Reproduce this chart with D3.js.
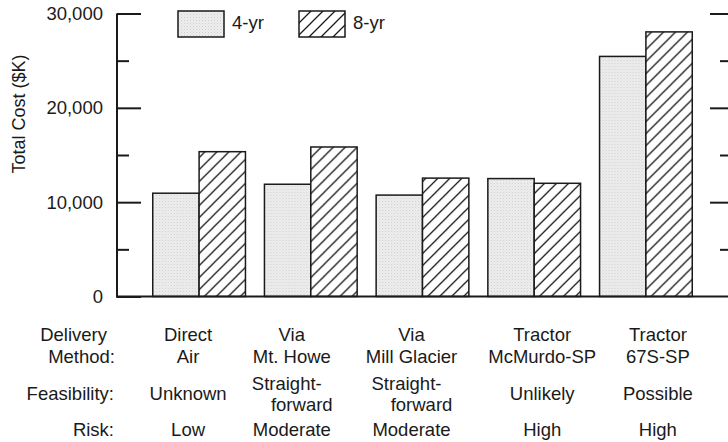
<!DOCTYPE html>
<html>
<head>
<meta charset="utf-8">
<script src="https://cdn.jsdelivr.net/npm/d3@7"></script>
<style>
  body { margin: 0; background: #fff; }
  text { font-family: "Liberation Sans", Arial, Helvetica, sans-serif; fill: #1a1a1a; }
</style>
</head>
<body>
<div class="vis-holder"></div>
<script>
// categories (delivery method, two lines each)
var methods = ["Direct Air", "Via Mt. Howe", "Via Mill Glacier", "Tractor McMurdo-SP", "Tractor 67S-SP"];
var methodLines = [["Direct", "Air"], ["Via", "Mt. Howe"], ["Via", "Mill Glacier"], ["Tractor", "McMurdo-SP"], ["Tractor", "67S-SP"]];
var feasibility = [["Unknown"], ["Straight-", "forward"], ["Straight-", "forward"], ["Unlikely"], ["Possible"]];
var risk = ["Low", "Moderate", "Moderate", "High", "High"];

// series values, total cost in $K
var seriesKeys = ["4-yr", "8-yr"];
var cost4yr = [10950, 11900, 10750, 12500, 25450];
var cost8yr = [15350, 15850, 12550, 12000, 28050];

// y ticks
var majorTicks = [0, 10000, 20000, 30000];
var minorTicks = [5000, 15000, 25000];

var width = 728;
var height = 442;
var margin = { top: 13.5, bottom: 145.5, left: 117, right: 0 };
var baseY = height - margin.bottom;

var svg = d3.select(".vis-holder")
            .append("svg")
            .attr("width", width)
            .attr("height", height);

// fill patterns: light stipple for 4-yr, diagonal hatch for 8-yr
var defs = svg.append("defs");
var stip = defs.append("pattern")
               .attr("id", "stipple")
               .attr("patternUnits", "userSpaceOnUse")
               .attr("width", 3).attr("height", 3);
stip.append("rect").attr("width", 3).attr("height", 3).attr("fill", "#eeeeee");
stip.append("rect").attr("x", 0).attr("y", 0).attr("width", 1).attr("height", 1).attr("fill", "#cdcdcd");
stip.append("rect").attr("x", 1.5).attr("y", 1.5).attr("width", 1).attr("height", 1).attr("fill", "#dcdcdc");

var hatch = defs.append("pattern")
                .attr("id", "hatch")
                .attr("patternUnits", "userSpaceOnUse")
                .attr("width", 12).attr("height", 12);
hatch.append("rect").attr("width", 12).attr("height", 12).attr("fill", "#fff");
hatch.append("path")
     .attr("d", "M0,12 L12,0 M-3,3 L3,-3 M9,15 L15,9")
     .attr("stroke", "#1a1a1a")
     .attr("stroke-width", 1.3);

var fills = { "4-yr": "url(#stipple)", "8-yr": "url(#hatch)" };

// rows for the bars
var rows = methods.map(function(m, i) {
  return { method: m, values: [{ key: "4-yr", v: cost4yr[i] }, { key: "8-yr", v: cost8yr[i] }] };
});

var xScale = d3.scaleBand()
               .domain(methods)
               .range([margin.left, width - margin.right])
               .paddingInner(0.17)
               .paddingOuter(0.32);

var xInner = d3.scaleBand()
               .domain(seriesKeys)
               .range([0, xScale.bandwidth()]);

var yScale = d3.scaleLinear()
               .domain([0, 30000])
               .range([baseY, margin.top]);

// bars
var groups = svg.append("g")
                .selectAll("g")
                .data(rows)
                .enter()
                .append("g")
                .attr("transform", function(d) { return "translate(" + xScale(d.method) + ",0)"; });

groups.selectAll("rect")
      .data(function(d) { return d.values; })
      .enter()
      .append("rect")
      .attr("x", function(d) { return xInner(d.key); })
      .attr("y", function(d) { return yScale(d.v); })
      .attr("width", xInner.bandwidth())
      .attr("height", function(d) { return baseY - yScale(d.v); })
      .attr("fill", function(d) { return fills[d.key]; })
      .attr("stroke", "#1a1a1a")
      .attr("stroke-width", 1.5);

// left axis: ticks pointing inward
var leftMajor = svg.append("g")
                   .attr("transform", "translate(" + margin.left + ",0)")
                   .call(d3.axisRight(yScale).tickValues(majorTicks).tickSize(24).tickFormat(""));
var leftMinor = svg.append("g")
                   .attr("transform", "translate(" + margin.left + ",0)")
                   .call(d3.axisRight(yScale).tickValues(minorTicks).tickSize(12).tickFormat(""));

// right axis, line sits just outside the frame
var rightX = 729;
var rightMajor = svg.append("g")
                    .attr("transform", "translate(" + rightX + ",0)")
                    .call(d3.axisLeft(yScale).tickValues(majorTicks.filter(function(t) { return t > 0; })).tickSize(19).tickFormat(""));
var rightMinor = svg.append("g")
                    .attr("transform", "translate(" + rightX + ",0)")
                    .call(d3.axisLeft(yScale).tickValues(minorTicks).tickSize(9).tickFormat(""));

svg.selectAll(".domain").remove();
svg.selectAll(".tick line").attr("stroke", "#1a1a1a").attr("stroke-width", 2);

// axis lines
svg.append("line")
   .attr("x1", margin.left).attr("x2", margin.left)
   .attr("y1", yScale(30000)).attr("y2", baseY + 1)
   .attr("stroke", "#1a1a1a").attr("stroke-width", 2);
svg.append("line")
   .attr("x1", margin.left - 1).attr("x2", width)
   .attr("y1", baseY).attr("y2", baseY)
   .attr("stroke", "#1a1a1a").attr("stroke-width", 2);

var fs = 18.5;

// y tick labels
svg.append("g")
   .selectAll("text")
   .data(majorTicks)
   .enter()
   .append("text")
   .attr("x", 103)
   .attr("y", function(d) { return yScale(d); })
   .attr("dy", "0.36em")
   .attr("text-anchor", "end")
   .attr("font-size", fs)
   .text(function(d) { return d3.format(",")(d); });

// y axis title
svg.append("text")
   .attr("text-anchor", "middle")
   .attr("transform", "translate(25," + 114 + ")rotate(-90)")
   .attr("font-size", 18)
   .text("Total Cost ($K)");

// legend
var legendX = [178, 299];
var legend = svg.append("g")
                .selectAll("g")
                .data(seriesKeys)
                .enter()
                .append("g")
                .attr("transform", function(d, i) { return "translate(" + legendX[i] + ",11)"; });
legend.append("rect")
      .attr("width", 46).attr("height", 26)
      .attr("fill", function(d) { return fills[d]; })
      .attr("stroke", "#1a1a1a")
      .attr("stroke-width", 1.5);
legend.append("text")
      .attr("x", 54).attr("y", 18)
      .attr("font-size", fs)
      .text(function(d) { return d; });

// row labels under the chart
var rowLabels = [
  { lines: ["Delivery", "Method:"], x: [107, 115], y: [341, 363] },
  { lines: ["Feasibility:"], x: [114], y: [400] },
  { lines: ["Risk:"], x: [114], y: [436] }
];
rowLabels.forEach(function(r) {
  r.lines.forEach(function(t, j) {
    svg.append("text")
       .attr("x", r.x[j]).attr("y", r.y[j])
       .attr("text-anchor", "end")
       .attr("font-size", fs)
       .text(t);
  });
});

// column text sits a little off the bar-group centres
var nudge = [-11, -19, -11, 8, 12];
function colX(i) { return xScale(methods[i]) + xScale.bandwidth() / 2 + nudge[i]; }

methodLines.forEach(function(ls, i) {
  ls.forEach(function(t, j) {
    svg.append("text")
       .attr("x", colX(i)).attr("y", [341, 363][j])
       .attr("text-anchor", "middle")
       .attr("font-size", fs)
       .text(t);
  });
});

feasibility.forEach(function(ls, i) {
  if (ls.length === 1) {
    svg.append("text")
       .attr("x", colX(i)).attr("y", 400)
       .attr("text-anchor", "middle")
       .attr("font-size", fs)
       .text(ls[0]);
  } else {
    svg.append("text")
       .attr("x", colX(i) - 5).attr("y", 390)
       .attr("text-anchor", "middle")
       .attr("font-size", fs)
       .text(ls[0]);
    svg.append("text")
       .attr("x", colX(i) + 10).attr("y", 411)
       .attr("text-anchor", "middle")
       .attr("font-size", fs)
       .text(ls[1]);
  }
});

risk.forEach(function(t, i) {
  svg.append("text")
     .attr("x", colX(i)).attr("y", 436)
     .attr("text-anchor", "middle")
     .attr("font-size", fs)
     .text(t);
});
</script>
</body>
</html>
